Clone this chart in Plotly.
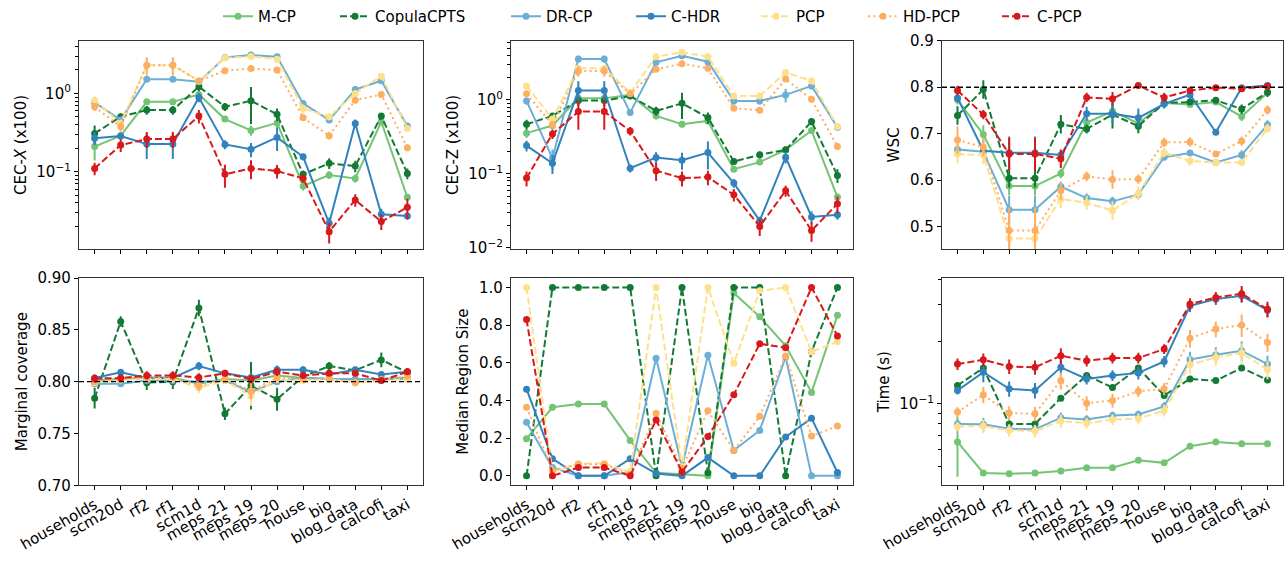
import plotly.graph_objects as go

datasets = ["households", "scm20d", "rf2", "rf1", "scm1d", "meps_21", "meps_19",
            "meps_20", "house", "bio", "blog_data", "calcofi", "taxi"]
methods = ["M-CP", "CopulaCPTS", "DR-CP", "C-HDR", "PCP", "HD-PCP", "C-PCP"]

# ---------------- CEC-X (x100) ----------------
cecx_mcp = [0.209, 0.288, 0.78, 0.78, 0.97, 0.47, 0.337, 0.42, 0.0656, 0.0906, 0.082, 0.435, 0.047]
cecx_copula = [0.308, 0.504, 0.612, 0.612, 1.22, 0.676, 0.806, 0.54, 0.0925, 0.128, 0.118, 0.514, 0.095]
cecx_drcp = [0.767, 0.457, 1.52, 1.52, 1.41, 2.88, 3.09, 2.94, 0.745, 0.457, 1.12, 1.45, 0.383]
cecx_chdr = [0.267, 0.285, 0.225, 0.225, 0.889, 0.223, 0.193, 0.274, 0.155, 0.0219, 0.414, 0.0285, 0.0272]
cecx_pcp = [0.82, 0.414, 2.3, 2.3, 1.44, 2.85, 2.97, 2.74, 0.644, 0.504, 1.0, 1.66, 0.357]
cecx_hdpcp = [0.676, 0.375, 2.3, 2.3, 1.44, 1.95, 2.08, 1.99, 0.489, 0.288, 0.82, 0.97, 0.202]
cecx_cpcp = [0.110, 0.219, 0.261, 0.261, 0.514, 0.0925, 0.110, 0.102, 0.082, 0.0171, 0.0435, 0.023, 0.035]
cecx_mcp_err = [0.07, 0.02, 0.05, 0.05, 0.05, 0.03, 0.05, 0.06, 0.008, 0.01, 0.01, 0.05, 0.004]
cecx_copula_err = [0.08, 0.05, 0.08, 0.08, 0.15, 0.08, 0.4, 0.1, 0.01, 0.02, 0.02, 0.05, 0.015]
cecx_drcp_err = [0.05, 0.03, 0.05, 0.05, 0.05, 0.1, 0.15, 0.1, 0.05, 0.03, 0.08, 0.1, 0.02]
cecx_chdr_err = [0.05, 0.03, 0.08, 0.08, 0.12, 0.03, 0.04, 0.09, 0.015, 0.004, 0.05, 0.005, 0.003]
cecx_pcp_err = [0.1, 0.05, 0.3, 0.3, 0.1, 0.15, 0.2, 0.15, 0.08, 0.05, 0.1, 0.15, 0.03]
cecx_hdpcp_err = [0.08, 0.05, 0.6, 0.6, 0.1, 0.1, 0.15, 0.1, 0.04, 0.03, 0.06, 0.08, 0.02]
cecx_cpcp_err = [0.02, 0.04, 0.06, 0.06, 0.1, 0.03, 0.03, 0.02, 0.01, 0.005, 0.008, 0.005, 0.01]

# ---------------- CEC-Z (x100) ----------------
cecz_mcp = [0.355, 0.45, 1.05, 1.05, 1.17, 0.608, 0.469, 0.52, 0.1156, 0.144, 0.211, 0.385, 0.0484]
cecz_copula = [0.469, 0.608, 0.98, 0.98, 1.13, 0.71, 0.90, 0.577, 0.147, 0.181, 0.211, 0.51, 0.095]
cecz_drcp = [0.97, 0.163, 3.58, 3.58, 0.674, 3.23, 3.97, 3.30, 0.97, 0.97, 1.17, 1.55, 0.427]
cecz_chdr = [0.241, 0.139, 1.34, 1.34, 0.119, 0.166, 0.153, 0.194, 0.0748, 0.0232, 0.168, 0.026, 0.0279]
cecz_pcp = [1.55, 0.554, 2.68, 2.68, 1.26, 3.85, 4.41, 3.85, 1.13, 1.13, 2.36, 1.81, 0.436]
cecz_hdpcp = [1.21, 0.46, 2.46, 2.46, 1.21, 2.6, 3.1, 2.68, 0.771, 0.725, 1.92, 1.02, 0.234]
cecz_cpcp = [0.0874, 0.347, 0.695, 0.695, 0.381, 0.11, 0.0874, 0.0902, 0.052, 0.0194, 0.0589, 0.017, 0.0393]
cecz_mcp_err = [0.05, 0.03, 0.1, 0.1, 0.1, 0.05, 0.04, 0.05, 0.01, 0.01, 0.02, 0.04, 0.005]
cecz_copula_err = [0.07, 0.05, 0.15, 0.15, 0.1, 0.1, 0.35, 0.1, 0.015, 0.02, 0.02, 0.06, 0.02]
cecz_drcp_err = [0.1, 0.05, 0.4, 0.4, 0.07, 0.3, 0.3, 0.3, 0.1, 0.1, 0.25, 0.15, 0.04]
cecz_chdr_err = [0.04, 0.04, 0.45, 0.45, 0.015, 0.03, 0.04, 0.08, 0.01, 0.003, 0.03, 0.005, 0.004]
cecz_pcp_err = [0.15, 0.05, 0.3, 0.3, 0.1, 0.3, 0.3, 0.3, 0.1, 0.1, 0.2, 0.15, 0.04]
cecz_hdpcp_err = [0.1, 0.05, 0.4, 0.4, 0.1, 0.2, 0.2, 0.2, 0.05, 0.05, 0.15, 0.08, 0.02]
cecz_cpcp_err = [0.02, 0.05, 0.3, 0.3, 0.05, 0.03, 0.02, 0.02, 0.01, 0.005, 0.01, 0.005, 0.01]

# ---------------- WSC ----------------
wsc_mcp = [0.773, 0.698, 0.587, 0.587, 0.614, 0.724, 0.748, 0.722, 0.766, 0.763, 0.768, 0.737, 0.788]
wsc_copula = [0.739, 0.795, 0.604, 0.604, 0.72, 0.71, 0.741, 0.716, 0.766, 0.768, 0.772, 0.753, 0.789]
wsc_drcp = [0.666, 0.661, 0.536, 0.536, 0.586, 0.561, 0.554, 0.569, 0.649, 0.658, 0.638, 0.654, 0.719]
wsc_chdr = [0.777, 0.663, 0.659, 0.659, 0.654, 0.743, 0.743, 0.734, 0.764, 0.784, 0.703, 0.799, 0.804]
wsc_pcp = [0.656, 0.654, 0.474, 0.474, 0.559, 0.551, 0.534, 0.571, 0.659, 0.641, 0.638, 0.638, 0.711]
wsc_hdpcp = [0.686, 0.671, 0.491, 0.491, 0.577, 0.608, 0.601, 0.602, 0.681, 0.682, 0.656, 0.684, 0.751]
wsc_cpcp = [0.793, 0.741, 0.656, 0.656, 0.646, 0.778, 0.775, 0.804, 0.778, 0.793, 0.799, 0.797, 0.802]
wsc_mcp_err = [0.01, 0.02, 0.02, 0.02, 0.01, 0.01, 0.01, 0.01, 0.005, 0.005, 0.005, 0.01, 0.005]
wsc_copula_err = [0.02, 0.02, 0.02, 0.02, 0.02, 0.01, 0.03, 0.015, 0.005, 0.005, 0.005, 0.01, 0.01]
wsc_drcp_err = [0.01, 0.01, 0.03, 0.03, 0.01, 0.01, 0.01, 0.01, 0.005, 0.005, 0.005, 0.01, 0.01]
wsc_chdr_err = [0.01, 0.01, 0.035, 0.035, 0.01, 0.015, 0.02, 0.02, 0.01, 0.01, 0.005, 0.005, 0.005]
wsc_pcp_err = [0.02, 0.02, 0.03, 0.03, 0.02, 0.015, 0.02, 0.015, 0.01, 0.01, 0.005, 0.005, 0.01]
wsc_hdpcp_err = [0.03, 0.02, 0.05, 0.05, 0.02, 0.01, 0.02, 0.01, 0.01, 0.01, 0.005, 0.01, 0.01]
wsc_cpcp_err = [0.01, 0.01, 0.035, 0.035, 0.02, 0.01, 0.015, 0.005, 0.01, 0.005, 0.005, 0.005, 0.005]

# ---------------- Marginal coverage ----------------
cov_mcp = [0.801, 0.8025, 0.804, 0.804, 0.798, 0.8025, 0.801, 0.806, 0.8035, 0.8025, 0.8025, 0.8025, 0.8025]
cov_copula = [0.784, 0.858, 0.799, 0.80, 0.871, 0.769, 0.796, 0.783, 0.805, 0.815, 0.811, 0.821, 0.809]
cov_drcp = [0.798, 0.798, 0.801, 0.801, 0.80, 0.801, 0.79, 0.80, 0.804, 0.8025, 0.802, 0.8025, 0.804]
cov_chdr = [0.8035, 0.809, 0.8035, 0.8035, 0.815, 0.808, 0.804, 0.8115, 0.8115, 0.807, 0.8115, 0.807, 0.8095]
cov_pcp = [0.799, 0.8015, 0.8025, 0.8025, 0.794, 0.801, 0.7865, 0.802, 0.801, 0.8025, 0.799, 0.801, 0.8025]
cov_hdpcp = [0.80, 0.8025, 0.804, 0.804, 0.796, 0.8025, 0.791, 0.8035, 0.8025, 0.8025, 0.799, 0.802, 0.805]
cov_cpcp = [0.803, 0.8035, 0.806, 0.806, 0.804, 0.808, 0.8025, 0.8095, 0.806, 0.808, 0.808, 0.801, 0.8095]
cov_mcp_err = [0.003, 0.003, 0.003, 0.003, 0.004, 0.003, 0.004, 0.003, 0.002, 0.002, 0.002, 0.002, 0.002]
cov_copula_err = [0.01, 0.005, 0.007, 0.007, 0.008, 0.006, 0.023, 0.011, 0.003, 0.004, 0.003, 0.007, 0.004]
cov_drcp_err = [0.003, 0.003, 0.003, 0.003, 0.003, 0.003, 0.01, 0.003, 0.002, 0.002, 0.002, 0.002, 0.002]
cov_chdr_err = [0.003, 0.003, 0.003, 0.003, 0.004, 0.003, 0.004, 0.004, 0.003, 0.002, 0.002, 0.002, 0.002]
cov_pcp_err = [0.003, 0.003, 0.003, 0.003, 0.005, 0.003, 0.01, 0.003, 0.003, 0.002, 0.002, 0.002, 0.002]
cov_hdpcp_err = [0.003, 0.003, 0.003, 0.003, 0.005, 0.003, 0.008, 0.003, 0.003, 0.002, 0.002, 0.002, 0.002]
cov_cpcp_err = [0.004, 0.003, 0.004, 0.004, 0.004, 0.003, 0.004, 0.004, 0.003, 0.002, 0.002, 0.002, 0.003]

# ---------------- Median Region Size ----------------
size_mcp = [0.197, 0.364, 0.381, 0.381, 0.188, 0.016, 0.009, 0.0, 0.97, 0.844, 0.69, 0.443, 0.852]
size_copula = [0.0, 1.0, 1.0, 1.0, 1.0, 0.0, 1.0, 0.016, 1.0, 1.0, 0.0, 0.66, 1.0]
size_drcp = [0.285, 0.044, 0.0, 0.0, 0.02, 0.624, 0.047, 0.64, 0.135, 0.241, 0.631, 0.0, 0.0]
size_chdr = [0.46, 0.091, 0.0, 0.0, 0.091, 0.012, 0.0, 0.097, 0.0, 0.0, 0.206, 0.306, 0.018]
size_pcp = [1.0, 0.02, 0.065, 0.065, 0.02, 1.0, 0.047, 1.0, 0.598, 0.982, 1.0, 0.659, 0.712]
size_hdpcp = [0.364, 0.03, 0.062, 0.062, 0.009, 0.332, 0.039, 0.346, 0.135, 0.316, 0.636, 0.211, 0.264]
size_cpcp = [0.83, 0.0, 0.044, 0.044, 0.0, 0.297, 0.021, 0.209, 0.431, 0.701, 0.68, 1.0, 0.742]

# ---------------- Time (s) ----------------
time_mcp = [0.0655, 0.0464, 0.046, 0.0464, 0.0474, 0.0492, 0.0492, 0.0534, 0.0519, 0.0624, 0.0655, 0.0642, 0.0642]
time_copula = [0.1226, 0.149, 0.080, 0.080, 0.1065, 0.137, 0.120, 0.149, 0.1097, 0.1318, 0.1294, 0.149, 0.1304]
time_drcp = [0.080, 0.0796, 0.0758, 0.0753, 0.0857, 0.0841, 0.0879, 0.0889, 0.0971, 0.1634, 0.1726, 0.1804, 0.1556]
time_chdr = [0.116, 0.142, 0.1181, 0.116, 0.15, 0.1318, 0.137, 0.141, 0.160, 0.297, 0.320, 0.332, 0.283]
time_pcp = [0.0778, 0.0781, 0.0744, 0.0739, 0.0826, 0.0807, 0.0841, 0.0847, 0.0929, 0.1545, 0.1675, 0.1757, 0.1463]
time_hdpcp = [0.0912, 0.1105, 0.0902, 0.0895, 0.1294, 0.1007, 0.1038, 0.115, 0.1181, 0.207, 0.2295, 0.24, 0.1977]
time_cpcp = [0.1556, 0.163, 0.1514, 0.150, 0.1706, 0.1615, 0.1663, 0.1663, 0.1837, 0.303, 0.326, 0.340, 0.286]
time_mcp_err = [0.021, 0.001, 0.001, 0.001, 0.001, 0.001, 0.001, 0.001, 0.001, 0.001, 0.001, 0.001, 0.001]
time_copula_err = [0.003, 0.004, 0.003, 0.003, 0.003, 0.003, 0.003, 0.004, 0.003, 0.003, 0.003, 0.004, 0.003]
time_drcp_err = [0.004, 0.006, 0.004, 0.004, 0.005, 0.004, 0.004, 0.004, 0.005, 0.015, 0.015, 0.02, 0.015]
time_chdr_err = [0.005, 0.015, 0.01, 0.01, 0.012, 0.008, 0.008, 0.01, 0.01, 0.02, 0.02, 0.025, 0.02]
time_pcp_err = [0.004, 0.006, 0.005, 0.005, 0.006, 0.005, 0.005, 0.005, 0.006, 0.015, 0.015, 0.02, 0.015]
time_hdpcp_err = [0.005, 0.01, 0.007, 0.007, 0.012, 0.008, 0.008, 0.007, 0.008, 0.02, 0.02, 0.03, 0.02]
time_cpcp_err = [0.01, 0.012, 0.012, 0.012, 0.015, 0.01, 0.01, 0.01, 0.01, 0.02, 0.02, 0.03, 0.025]

colors = ["#74c476", "#137a36", "#6baed6", "#3182bd", "#fee08b", "#fdae61", "#d7191c"]
dashes = ["solid", "7px,3px", "solid", "solid", "7px,3px", "2px,3.3px", "7px,3px"]
legend_widths = [72, 126, 80, 80, 62, 89, 55]

panels = [
    ([cecx_mcp, cecx_copula, cecx_drcp, cecx_chdr, cecx_pcp, cecx_hdpcp, cecx_cpcp],
     [cecx_mcp_err, cecx_copula_err, cecx_drcp_err, cecx_chdr_err, cecx_pcp_err, cecx_hdpcp_err, cecx_cpcp_err]),
    ([cecz_mcp, cecz_copula, cecz_drcp, cecz_chdr, cecz_pcp, cecz_hdpcp, cecz_cpcp],
     [cecz_mcp_err, cecz_copula_err, cecz_drcp_err, cecz_chdr_err, cecz_pcp_err, cecz_hdpcp_err, cecz_cpcp_err]),
    ([wsc_mcp, wsc_copula, wsc_drcp, wsc_chdr, wsc_pcp, wsc_hdpcp, wsc_cpcp],
     [wsc_mcp_err, wsc_copula_err, wsc_drcp_err, wsc_chdr_err, wsc_pcp_err, wsc_hdpcp_err, wsc_cpcp_err]),
    ([cov_mcp, cov_copula, cov_drcp, cov_chdr, cov_pcp, cov_hdpcp, cov_cpcp],
     [cov_mcp_err, cov_copula_err, cov_drcp_err, cov_chdr_err, cov_pcp_err, cov_hdpcp_err, cov_cpcp_err]),
    ([size_mcp, size_copula, size_drcp, size_chdr, size_pcp, size_hdpcp, size_cpcp], None),
    ([time_mcp, time_copula, time_drcp, time_chdr, time_pcp, time_hdpcp, time_cpcp],
     [time_mcp_err, time_copula_err, time_drcp_err, time_chdr_err, time_pcp_err, time_hdpcp_err, time_cpcp_err]),
]

W, H = 1286, 561
col_px = [(79, 423), (511, 853), (942, 1283)]
row_px = [(39, 248), (277, 485)]

FONT = "DejaVu Sans"
fig = go.Figure()

for p, (series, errs) in enumerate(panels):
    ax = "" if p == 0 else str(p + 1)
    for m, name in enumerate(methods):
        kw = {}
        if errs is not None:
            kw["error_y"] = dict(type="data", array=errs[m], visible=True,
                                 color=colors[m], thickness=2, width=0)
        fig.add_trace(go.Scatter(
            x=datasets, y=series[m], name=name, mode="lines+markers",
            line=dict(color=colors[m], width=2, dash=dashes[m]),
            marker=dict(color=colors[m], size=7, symbol="circle"),
            xaxis="x" + ax, yaxis="y" + ax, legendwidth=legend_widths[m],
            showlegend=(p == 0), legendgroup=name, **kw))

def sup(e):
    return "10<sup>" + str(e).replace("-", "\u2212") + "</sup>"

def minor_vals(lo, hi):
    vals = []
    for e in range(lo, hi):
        for k in range(2, 10):
            vals.append(k * 10 ** e)
    return vals

axis_font = dict(family=FONT, size=15, color="black")
ylog_specs = {
    0: dict(type="log", range=[-1.99, 0.672], tickvals=[0.1, 1], ticktext=[sup(-1), sup(0)],
            minor=dict(tickvals=minor_vals(-2, 1), ticks="outside", ticklen=2.5, tickcolor="black")),
    1: dict(type="log", range=[-2.02, 0.80], tickvals=[0.01, 0.1, 1], ticktext=[sup(-2), sup(-1), sup(0)],
            minor=dict(tickvals=minor_vals(-2, 1), ticks="outside", ticklen=2.5, tickcolor="black")),
    2: dict(type="linear", range=[0.451, 0.9], tickvals=[0.5, 0.6, 0.7, 0.8, 0.9],
            ticktext=["0.5", "0.6", "0.7", "0.8", "0.9"]),
    3: dict(type="linear", range=[0.70, 0.90], tickvals=[0.70, 0.75, 0.80, 0.85, 0.90],
            ticktext=["0.70", "0.75", "0.80", "0.85", "0.90"]),
    4: dict(type="linear", range=[-0.05, 1.05], tickvals=[0, 0.2, 0.4, 0.6, 0.8, 1.0],
            ticktext=["0.0", "0.2", "0.4", "0.6", "0.8", "1.0"]),
    5: dict(type="log", range=[-1.393, -0.393], tickvals=[0.1], ticktext=[sup(-1)],
            minor=dict(tickvals=minor_vals(-2, 0), ticks="outside", ticklen=2.5, tickcolor="black")),
}
ytitles = ["CEC-<i>X</i> (x100)", "CEC-Z (x100)", "WSC", "Marginal coverage",
           "Median Region Size", "Time (s)"]

layout = dict(
    width=W, height=H, margin=dict(l=0, r=0, t=0, b=0),
    paper_bgcolor="white", plot_bgcolor="white",
    font=dict(family=FONT, size=15, color="black"),
    legend=dict(orientation="h", x=218 / W, xanchor="left", y=1.004, yanchor="top",
                font=dict(family=FONT, size=15), itemwidth=30, tracegroupgap=0,
                bgcolor="rgba(0,0,0,0)"),
    shapes=[],
)

for p in range(6):
    r, c = divmod(p, 3)
    ax = "" if p == 0 else str(p + 1)
    x0, x1 = col_px[c]
    yt, yb = row_px[r]
    xd = [x0 / W, x1 / W]
    yd = [1 - yb / H, 1 - yt / H]
    layout["xaxis" + ax] = dict(
        domain=xd, anchor="y" + ax, type="category", range=[-0.6, 12.6],
        showgrid=False, zeroline=False, showline=True, mirror=True,
        linecolor="#333333", linewidth=1.2, ticks="outside", ticklen=4,
        tickcolor="black", tickangle=-30 if r == 1 else 0,
        showticklabels=(r == 1), tickfont=axis_font, automargin=False)
    ys = dict(ylog_specs[p])
    layout["yaxis" + ax] = dict(
        domain=yd, anchor="x" + ax, showgrid=False, zeroline=False,
        showline=True, mirror=True, linecolor="#333333", linewidth=1.2,
        ticks="outside", ticklen=4, tickcolor="black", tickfont=axis_font,
        title=dict(text=ytitles[p], font=axis_font, standoff=6),
        automargin=False, **ys)

for ax in ["x3", "x4"]:
    yax = "y" + ax[1:]
    layout["shapes"].append(dict(
        type="line", xref=ax + " domain", yref=yax, x0=0, x1=1, y0=0.8, y1=0.8,
        line=dict(color="black", width=1.3, dash="5px,3px"), layer="above"))

fig.update_layout(**layout)
fig.write_html("out.html", config={"displayModeBar": False},
               post_script="document.body.style.margin='0px';")
